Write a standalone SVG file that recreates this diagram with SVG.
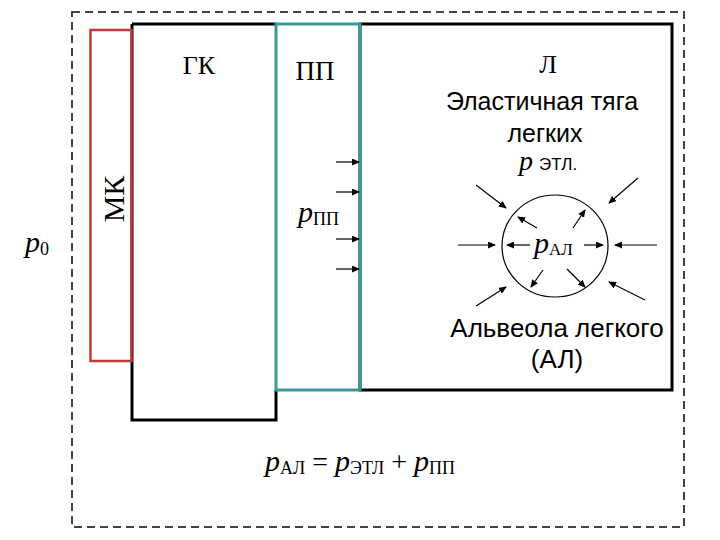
<svg xmlns="http://www.w3.org/2000/svg" width="720" height="540" viewBox="0 0 720 540">
<defs>
<marker id="ah" markerUnits="userSpaceOnUse" markerWidth="8" markerHeight="7" refX="7" refY="3.5" orient="auto">
<path d="M0,0 L8,3.5 L0,7 Z" fill="#000"/>
</marker>
<style>
.serif{font-family:"Liberation Serif","Times New Roman",serif;fill:#000}
.sans{font-family:"Liberation Sans",Arial,sans-serif;fill:#000}
.it{font-style:italic}
.arr{stroke:#000;stroke-width:1.2;fill:none;marker-end:url(#ah)}
</style>
</defs>
<rect width="720" height="540" fill="#fff"/>
<g id="border"><rect x="72" y="12" width="612" height="515" fill="none" stroke="#444" stroke-width="2" stroke-dasharray="8,5"/></g>
<g id="gk">
<path d="M132,24 L132,420 L276,420 L276,390" fill="none" stroke="#000" stroke-width="3"/>
<path d="M132,24 L276,24" stroke="#000" stroke-width="3"/>
<text class="serif" x="199" y="74" font-size="26" text-anchor="middle">ГК</text>
</g>
<g id="l">
<rect x="360" y="24" width="312" height="366" fill="none" stroke="#000" stroke-width="3"/>
<text class="serif" x="548" y="73" font-size="26" text-anchor="middle">Л</text>
<text class="sans" x="542" y="110" font-size="25" text-anchor="middle">Эластичная тяга</text>
<text class="sans" x="545" y="142" font-size="25" text-anchor="middle">легких</text>
<text class="serif" x="519" y="170"><tspan class="serif it" font-size="28">p</tspan><tspan class="sans" font-size="17" dx="6">ЭТЛ.</tspan></text>
<text class="sans" x="557" y="337" font-size="26" text-anchor="middle">Альвеола легкого</text>
<text class="sans" x="557" y="368" font-size="26" text-anchor="middle">(АЛ)</text>
</g>
<g id="pp">
<rect x="276" y="24" width="84" height="366" fill="none" stroke="#3a9a9a" stroke-width="3"/>
<text class="serif" x="315" y="80" font-size="27" text-anchor="middle">ПП</text>
<text class="serif" x="298" y="222"><tspan class="serif it" font-size="30">p</tspan><tspan class="serif" font-size="18" dy="3">ПП</tspan></text>
</g>
<g id="mk">
<rect x="90.5" y="30" width="41" height="331" fill="none" stroke="#c0393b" stroke-width="2.5"/>
<text class="serif" transform="translate(124,199) rotate(-90)" font-size="30" text-anchor="middle">МК</text>
</g>
<g id="alveola">
<ellipse cx="555" cy="246" rx="53" ry="51" fill="none" stroke="#000" stroke-width="1.2"/>
<text class="serif" x="534" y="253"><tspan class="serif it" font-size="30">p</tspan><tspan class="serif" font-size="17" dy="2">АЛ</tspan></text>
</g>
<g id="labels">
<text class="serif" x="25" y="252"><tspan class="serif it" font-size="30">p</tspan><tspan class="serif" font-size="18" dy="3">0</tspan></text>
<text class="serif" x="265" y="471"><tspan class="serif it" font-size="30">p</tspan><tspan class="serif" font-size="18" dy="3">АЛ</tspan><tspan class="serif" font-size="28" dy="-3"> = </tspan><tspan class="serif it" font-size="30">p</tspan><tspan class="serif" font-size="18" dy="3">ЭТЛ</tspan><tspan class="serif" font-size="28" dy="-3"> + </tspan><tspan class="serif it" font-size="30">p</tspan><tspan class="serif" font-size="18" dy="3">ПП</tspan></text>
</g>
<g id="connectors">
<line class="arr" x1="336" y1="162" x2="359" y2="162"/>
<line class="arr" x1="336" y1="192" x2="359" y2="192"/>
<line class="arr" x1="336" y1="239" x2="359" y2="239"/>
<line class="arr" x1="336" y1="269" x2="359" y2="269"/>
<line class="arr" x1="476" y1="185" x2="506" y2="208"/>
<line class="arr" x1="638" y1="178" x2="609" y2="203"/>
<line class="arr" x1="458" y1="245" x2="495" y2="245"/>
<line class="arr" x1="657" y1="245" x2="615" y2="245"/>
<line class="arr" x1="476" y1="306" x2="506" y2="287"/>
<line class="arr" x1="645" y1="300" x2="609" y2="282"/>
<line class="arr" x1="537" y1="228" x2="518" y2="217"/>
<line class="arr" x1="573" y1="228" x2="585" y2="210"/>
<line class="arr" x1="530" y1="245" x2="507" y2="245"/>
<line class="arr" x1="584" y1="245" x2="603" y2="245"/>
<line class="arr" x1="543" y1="270" x2="531" y2="287"/>
<line class="arr" x1="567" y1="269" x2="585" y2="287"/>
</g>
</svg>
